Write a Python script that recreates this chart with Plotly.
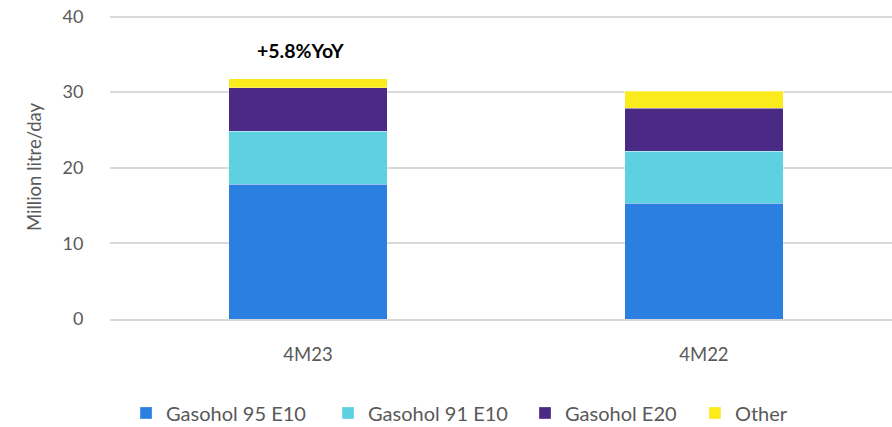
import plotly.graph_objects as go

categories = ["4M23", "4M22"]
gasohol_95_e10 = [17.8, 15.3]
gasohol_91_e10 = [7.0, 6.9]
gasohol_e20 = [5.8, 5.7]
other = [1.2, 2.2]
y_ticks = [0, 10, 20, 30, 40]
annotation_text = "+5.8%YoY"

series = [
    ("Gasohol 95 E10", gasohol_95_e10, "#2B7FE0"),
    ("Gasohol 91 E10", gasohol_91_e10, "#5ED1E0"),
    ("Gasohol E20", gasohol_e20, "#4B2A85"),
    ("Other", other, "#FBEA1C"),
]
legend_ids = ["legend", "legend2", "legend3", "legend4"]
legend_x = [0.0205, 0.2788, 0.5307, 0.748]

font_family = "Lato, 'Open Sans', sans-serif"
grey = "#595959"
fig = go.Figure()
for (name, vals, color), lid in zip(series, legend_ids):
    fig.add_trace(go.Bar(
        x=categories, y=vals, name=name, legend=lid,
        marker=dict(color=color, line=dict(color="rgba(255,255,255,0.5)", width=0.6)),
        width=0.4,
    ))

fig.add_annotation(x=categories[0], y=sum(v[0] for _, v, _ in series), yref="y",
                   text=f"<b>{annotation_text}</b>", showarrow=False,
                   yshift=28, xshift=-7, yanchor="middle",
                   font=dict(family=font_family, size=19.5, color="#000000"))

legend_common = dict(orientation="h", xanchor="left", yref="container", y=0.033,
                     yanchor="middle", font=dict(size=20, color=grey),
                     bgcolor="rgba(0,0,0,0)", borderwidth=0)
layout_legends = {lid: dict(x=lx, **legend_common) for lid, lx in zip(legend_ids, legend_x)}

fig.update_layout(
    barmode="stack",
    width=892, height=427,
    margin=dict(l=110, r=0, t=14.5, b=108),
    paper_bgcolor="white", plot_bgcolor="white",
    font=dict(family=font_family, size=15, color=grey),
    showlegend=True,
    **layout_legends,
)
fig.update_xaxes(range=[-0.5, 1.475], showgrid=False, showline=True,
                 linecolor="#d9d9d9", linewidth=1.5, ticks="",
                 tickfont=dict(size=18.5, color=grey), ticklabelstandoff=18)
fig.update_yaxes(range=[0, 40.2], tickvals=y_ticks, showgrid=True,
                 gridcolor="#d9d9d9", gridwidth=1.5, zeroline=False,
                 ticks="outside", ticklen=0, ticklabelstandoff=22,
                 tickfont=dict(size=18, color=grey),
                 title=dict(text="Million litre/day", font=dict(size=18.5, color=grey), standoff=16))

fig.write_html("out.html", config={"displayModeBar": False},
               post_script="document.body.style.margin='0';document.body.style.overflow='hidden';")
